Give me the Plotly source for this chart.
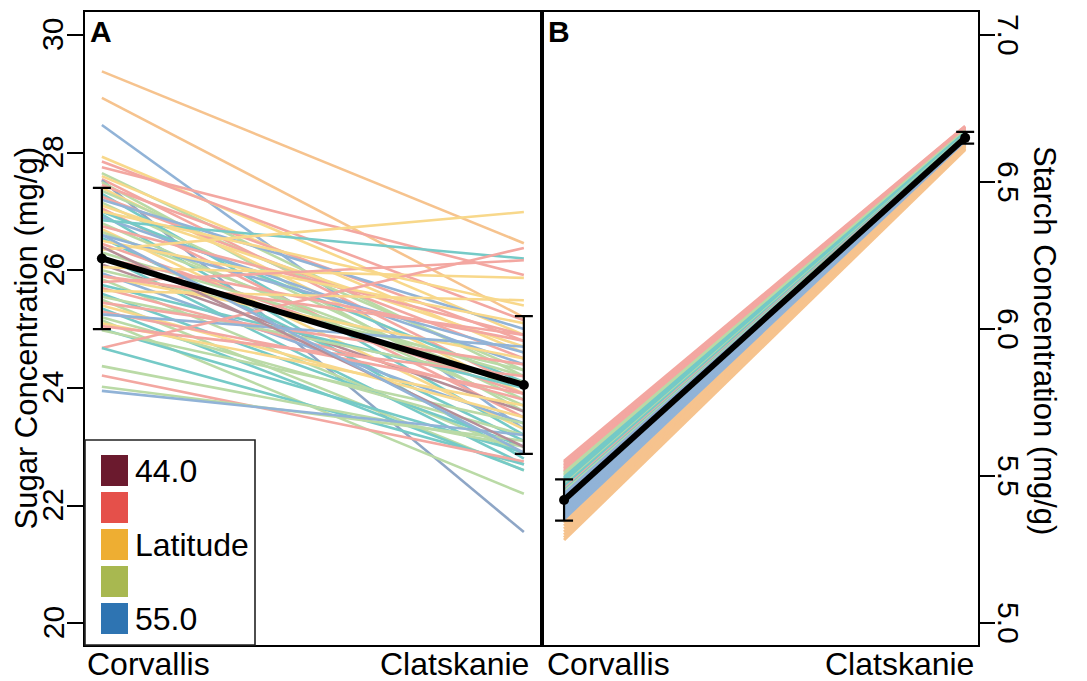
import plotly.graph_objects as go

# ---------------- data ----------------
sites = ["Corvallis", "Clatskanie"]

# Panel A: sugar concentration (mg/g) per genotype, coloured by latitude group
sugar_corvallis = [29.38, 28.93, 28.47, 27.93, 27.85, 27.75, 27.65, 27.60, 27.55, 27.53,
                   27.50, 27.45, 27.40, 27.35, 27.30, 27.25, 27.20, 27.15, 27.10, 27.05,
                   27.00, 26.95, 26.90, 26.85, 26.80, 26.75, 26.70, 26.65, 26.60, 26.55,
                   26.50, 26.45, 26.35, 26.30, 26.25, 26.20, 26.10, 26.05, 26.00, 25.95,
                   25.90, 25.85, 25.80, 25.75, 25.70, 25.65, 25.60, 25.55, 25.50, 25.45,
                   25.40, 25.35, 25.30, 25.25, 25.20, 25.15, 25.10, 25.05, 25.00, 24.98,
                   24.68, 24.68, 24.37, 24.21, 24.02, 23.95, 26.40, 25.90, 27.00, 26.60]
sugar_clatskanie = [26.46, 25.20, 23.30, 24.90, 25.15, 25.92, 24.20, 24.60, 24.00, 21.55,
                    23.60, 24.80, 23.90, 24.30, 23.20, 24.50, 25.00, 23.80, 24.70, 23.50,
                    24.10, 22.80, 24.40, 26.20, 23.70, 24.90, 23.30, 24.00, 24.60, 23.10,
                    25.10, 23.90, 26.99, 24.20, 22.70, 24.80, 23.60, 25.87, 24.30, 23.40,
                    24.50, 22.90, 26.17, 24.00, 23.80, 25.49, 23.00, 24.10, 22.60, 24.40,
                    23.50, 22.60, 23.90, 24.70, 23.20, 22.20, 23.70, 24.20, 22.90, 23.40,
                    26.38, 22.70, 23.00, 22.75, 23.10, 23.20, 23.00, 24.90, 25.40, 22.90]
sugar_group = ["orange", "orange", "blue", "yellow", "red", "red", "green", "yellow", "red", "slate",
               "green", "red", "yellow", "green", "teal", "red", "blue", "green", "yellow", "red",
               "teal", "teal", "blue", "teal", "green", "red", "yellow", "green", "blue", "teal",
               "yellow", "red", "yellow", "green", "teal", "red", "maroon", "yellow", "green", "blue",
               "yellow", "green", "red", "teal", "red", "yellow", "teal", "green", "green", "red",
               "yellow", "teal", "red", "blue", "green", "green", "yellow", "red", "teal", "green",
               "red", "teal", "green", "red", "green", "blue", "maroon", "red", "yellow", "blue"]
sugar_mean = [26.20, 24.05]
sugar_err = [1.20, 1.17]
sugar_ticks = [20, 22, 24, 26, 28, 30]

# Panel B: starch concentration (mg/g)
starch_corvallis = [5.550, 5.545, 5.540, 5.535, 5.530, 5.525, 5.520, 5.515, 5.510, 5.505,
                    5.500, 5.495, 5.490, 5.485, 5.480, 5.475, 5.470, 5.465, 5.460, 5.455,
                    5.450, 5.445, 5.440, 5.430, 5.420, 5.410, 5.400, 5.390, 5.380, 5.370,
                    5.360, 5.350, 5.340, 5.330, 5.320, 5.310, 5.300, 5.290, 5.282]
starch_clatskanie = [6.690, 6.688, 6.686, 6.684, 6.682, 6.680, 6.678, 6.676, 6.674, 6.672,
                     6.670, 6.668, 6.666, 6.664, 6.662, 6.660, 6.658, 6.656, 6.654, 6.652,
                     6.650, 6.648, 6.646, 6.644, 6.642, 6.640, 6.638, 6.636, 6.634, 6.632,
                     6.630, 6.628, 6.626, 6.624, 6.622, 6.620, 6.616, 6.613, 6.610]
starch_group = ["red", "red", "red", "red", "red", "red", "red", "red", "green", "green",
                "green", "teal", "teal", "teal", "teal", "teal", "green", "teal", "teal", "red",
                "teal", "green", "blue", "blue", "blue", "blue", "blue", "blue", "blue", "blue",
                "blue", "blue", "orange", "orange", "orange", "orange", "orange", "orange", "orange"]
starch_mean = [5.418, 6.650]
starch_err = [0.07, 0.02]
starch_ticks = [5.0, 5.5, 6.0, 6.5, 7.0]

legend_colors = ["#6B1A2E", "#E5504A", "#EEAE32", "#A8B850", "#2E74B2"]
legend_labels = ["44.0", "", "Latitude", "", "55.0"]

line_colors = {
    "maroon": "#B68E98", "red": "#F3A7A1", "orange": "#F6C38E", "yellow": "#F8D88B",
    "green": "#BADAA6", "teal": "#75CAC7", "blue": "#91B3D7", "slate": "#8EA6C6",
}

FONT = "Liberation Sans, Arial, Helvetica, sans-serif"

fig = go.Figure()

for s, e, g in zip(sugar_corvallis, sugar_clatskanie, sugar_group):
    fig.add_trace(go.Scatter(x=sites, y=[s, e], mode="lines", xaxis="x", yaxis="y",
                             line=dict(color=line_colors[g], width=2.6),
                             showlegend=False, hoverinfo="skip"))

fig.add_trace(go.Scatter(x=sites, y=sugar_mean, mode="lines+markers", xaxis="x", yaxis="y",
                         line=dict(color="black", width=6),
                         marker=dict(color="black", size=10),
                         error_y=dict(type="data", array=sugar_err, color="black",
                                      thickness=2.2, width=9),
                         showlegend=False))

for s, e, g in zip(starch_corvallis, starch_clatskanie, starch_group):
    fig.add_trace(go.Scatter(x=sites, y=[s, e], mode="lines", xaxis="x2", yaxis="y2",
                             line=dict(color=line_colors[g], width=3),
                             showlegend=False, hoverinfo="skip"))

fig.add_trace(go.Scatter(x=sites, y=starch_mean, mode="lines+markers", xaxis="x2", yaxis="y2",
                         line=dict(color="black", width=6),
                         marker=dict(color="black", size=10),
                         error_y=dict(type="data", array=starch_err, color="black",
                                      thickness=2.2, width=9),
                         showlegend=False))

# ---------------- layout ----------------
# page has an 8px body margin, so the figure is 8px smaller and everything is
# positioned in reference-page pixels via px()/py()
OFF = 8
W, H = 1087 - OFF, 681 - OFF
L, T = 85 - OFF, 12 - OFF
pw, ph = 978 - 85, 645 - 12
R, B = W - L - pw, H - T - ph
split = (542 - 85) / pw

def px(xp):
    return (xp - 85) / pw

def py(yp):
    return (645 - yp) / ph

axis_common = dict(showline=True, linecolor="black", linewidth=2, mirror=True,
                   showgrid=False, zeroline=False)

fig.update_layout(
    width=W, height=H, margin=dict(l=L, r=R, t=T, b=B, autoexpand=False),
    plot_bgcolor="white", paper_bgcolor="white",
    font=dict(family=FONT, color="black"),
    xaxis=dict(domain=[0, split], type="category", range=[-0.04, 1.043],
               showticklabels=False, ticks="", **axis_common),
    yaxis=dict(range=[19.63, 30.39], tickvals=sugar_ticks, showticklabels=False,
               ticks="outside", ticklen=16, tickwidth=2, tickcolor="black",
               **axis_common),
    xaxis2=dict(domain=[split, 1], type="category", range=[-0.055, 1.032], anchor="y2",
                showticklabels=False, ticks="", **axis_common),
    yaxis2=dict(range=[4.925, 7.078], tickvals=starch_ticks, showticklabels=False,
                side="right", anchor="x2",
                ticks="outside", ticklen=15, tickwidth=2, tickcolor="black",
                **axis_common),
)

ann = []
# y tick labels (rotated, as in the reference)
for v in sugar_ticks:
    ann.append(dict(text=f"{v:d}", xref="paper", x=px(53), yref="y", y=v,
                    xanchor="center", yanchor="middle", textangle=-90,
                    font=dict(size=30, family=FONT, color="black")))
for v in starch_ticks:
    ann.append(dict(text=f"{v:.1f}", xref="paper", x=px(1008), yref="y2", y=v,
                    xanchor="center", yanchor="middle", textangle=90,
                    font=dict(size=30, family=FONT, color="black")))
# x category labels
ylab = py(664)
ann.append(dict(text=sites[0], x=px(85), xanchor="left", y=ylab, yanchor="middle"))
ann.append(dict(text=sites[1], x=px(531), xanchor="right", y=ylab, yanchor="middle"))
ann.append(dict(text=sites[0], x=px(545), xanchor="left", y=ylab, yanchor="middle"))
ann.append(dict(text=sites[1], x=px(976), xanchor="right", y=ylab, yanchor="middle"))
# axis titles
ann.append(dict(text="Sugar Concentration (mg/g)", x=px(25.5), y=py(338), xanchor="center",
                yanchor="middle", textangle=-90,
                font=dict(size=31, family=FONT, color="black")))
ann.append(dict(text="Starch Concentration (mg/g)", x=px(1044), y=py(340), xanchor="center",
                yanchor="middle", textangle=90,
                font=dict(size=31, family=FONT, color="black")))
# panel letters
ann.append(dict(text="<b>A</b>", x=px(88), y=py(32), xanchor="left", yanchor="middle",
                font=dict(size=30, family=FONT, color="black")))
ann.append(dict(text="<b>B</b>", x=px(546), y=py(32), xanchor="left", yanchor="middle",
                font=dict(size=30, family=FONT, color="black")))

shapes = [dict(type="rect", xref="paper", yref="paper", x0=px(85), x1=px(255),
               y0=py(645), y1=py(440), line=dict(color="#222222", width=1.6),
               fillcolor="white", layer="above")]
sq_tops = [455, 492, 529, 566, 603]
for top, col, lab in zip(sq_tops, legend_colors, legend_labels):
    shapes.append(dict(type="rect", xref="paper", yref="paper", x0=px(101), x1=px(128),
                       y0=py(top + 31), y1=py(top), line=dict(width=0), fillcolor=col,
                       layer="above"))
    if lab:
        ann.append(dict(text=lab, x=px(133), xanchor="left", y=py(top + 15.5),
                        yanchor="middle"))

for a in ann:
    a.setdefault("xref", "paper")
    a.setdefault("yref", "paper")
    a.setdefault("showarrow", False)
    a.setdefault("font", dict(size=32, family=FONT, color="black"))

fig.update_layout(annotations=ann, shapes=shapes)

fig.write_html("out.html")
